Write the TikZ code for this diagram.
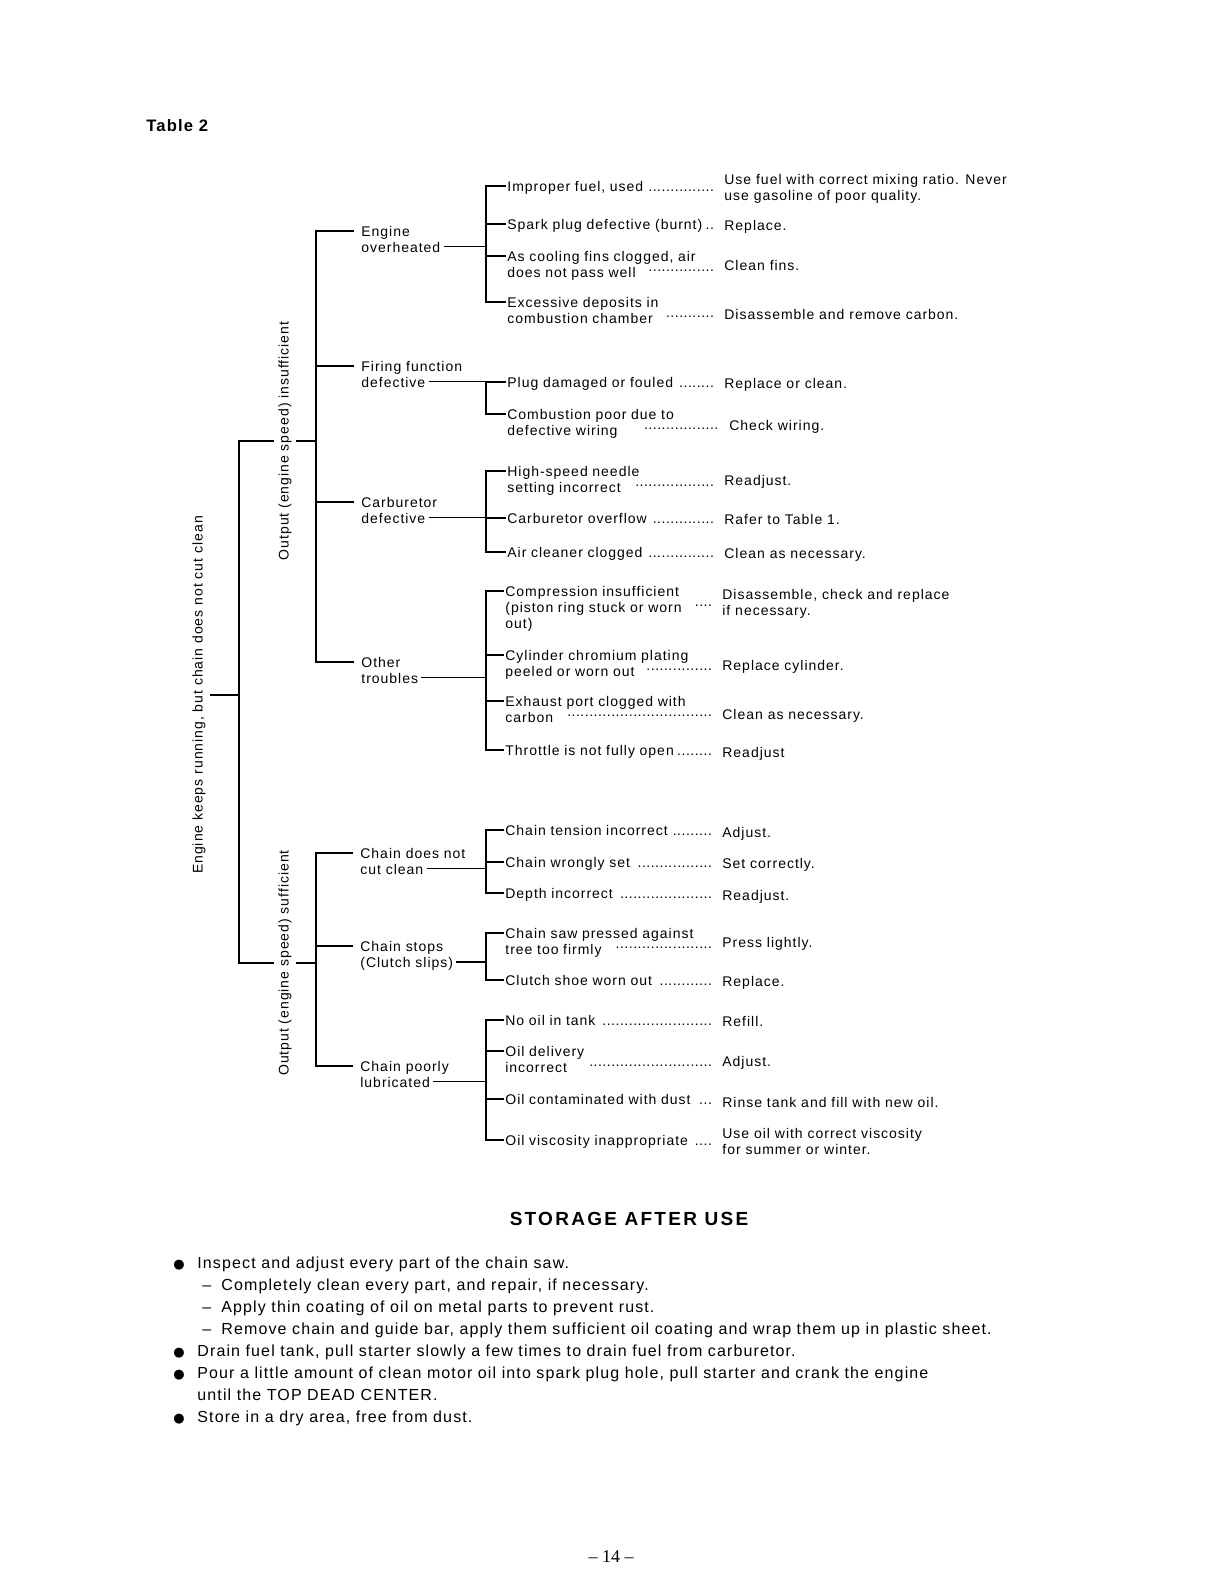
\documentclass[tikz,border=0pt]{standalone}
\usepackage{fontspec}
\setmainfont{Liberation Sans}[LetterSpace=7]
\newfontfamily\pagefont{Liberation Serif}
\newfontfamily\bulfont{DejaVu Sans}
\usetikzlibrary{positioning,calc}
% dot leaders: on the line, and raised half a line
\newcommand\lfill{\leaders\hbox to 2.2pt{\hss.\hss}\hskip 0pt plus 1filll\kern0pt}
\newcommand\ufill{\leaders\hbox to 2.2pt{\hss\smash{\raise3pt\hbox{.}}\hss}\hskip 0pt plus 1filll\kern0pt}
\newcommand\lead[2][104.5pt]{\makebox[#1][l]{#2\lfill}}
\newcommand\ulead[2][104.5pt]{\makebox[#1][l]{#2\hspace{5pt}\ufill}}
\newcommand\blt{\makebox[12pt][l]{\bulfont\fontsize{6.5}{8}\selectfont ●}}
\newcommand\dsh{\hspace*{14.5pt}\makebox[9.5pt][l]{–}}
\tikzset{
  tree/.style={line width=1pt},
  tie/.style={line width=.75pt},
  grp/.style={anchor=base west,inner sep=0pt,font=\fontsize{7}{8}\selectfont},
  cause/.style={anchor=base west,inner sep=0pt,text width=107pt,align=left,font=\fontsize{7}{8}\selectfont},
  fix/.style={anchor=base west,inner sep=0pt,align=left,font=\fontsize{7}{8}\selectfont},
  side/.style={rotate=90,inner sep=2pt,font=\fontsize{7}{8}\selectfont},
}
\begin{document}
\begin{tikzpicture}[x=0.5pt,y=-0.5pt]
  \path[use as bounding box,fill=white] (0,0) rectangle (1224,1584);
  \node[anchor=base west,inner sep=0pt,font=\bfseries\fontsize{8.3}{10}\selectfont] (ttl) at (146,132) {Table 2};
  \coordinate (kx) at (239,0);
  \coordinate (lx) at (316,0);
  \coordinate (bx) at (486,0);

  % causes, upper half
  \node[cause] (c1) at (507,191.5) {\lead{Improper fuel, used\ }};
  \node[cause] (c2) at (507,229.5) {\lead{Spark plug defective (burnt)}};
  \node[cause] (c3) at (507,261.5) {As cooling fins clogged, air\\\ulead{does not pass well}};
  \node[cause] (c4) at (507,307.5) {Excessive deposits in\\\ulead{combustion chamber}};
  \node[cause] (c5) at (507,387) {\lead{Plug damaged or fouled\ }};
  \node[cause] (c6) at (507,419) {Combustion poor due to\\\ulead[106.5pt]{defective wiring\hspace{6pt}}};
  \node[cause] (c7) at (507,476.5) {High-speed needle\\\ulead{setting incorrect}};
  \node[cause] (c8) at (507,523) {\lead{Carburetor overflow\ }};
  \node[cause] (c9) at (507,557) {\lead{Air cleaner clogged\ }};
  \node[cause] (c10) at (505,596.5) {Compression insufficient\\\ulead{(piston ring stuck or worn}\\out)};
  \node[cause] (c11) at (505,660.5) {Cylinder chromium plating\\\ulead{peeled or worn out}};
  \node[cause] (c12) at (505,706.5) {Exhaust port clogged with\\\ulead{carbon}};
  \node[cause] (c13) at (505,755.5) {\lead{Throttle is not fully open}};
  % causes, lower half
  \node[cause] (c14) at (505,835.5) {\lead{Chain tension incorrect\ }};
  \node[cause] (c15) at (505,867.5) {\lead{Chain wrongly set\ }};
  \node[cause] (c16) at (505,898.5) {\lead{Depth incorrect\ }};
  \node[cause] (c17) at (505,938.5) {Chain saw pressed against\\\ulead{tree too firmly}};
  \node[cause] (c18) at (505,985) {\lead{Clutch shoe worn out\ }};
  \node[cause] (c19) at (505,1025) {\lead{No oil in tank\ }};
  \node[cause] (c20) at (505,1056.5) {Oil delivery\\\ulead{incorrect\hspace{6pt}}};
  \node[cause] (c21) at (505,1104.5) {\lead{Oil contaminated with dust\ }};
  \node[cause] (c22) at (505,1145) {\lead{Oil viscosity inappropriate\ }};

  % remedies (base = last line)
  \node[fix] (r1) at (724,200) {Use fuel with correct mixing ratio. Never\\use gasoline of poor quality.};
  \node[fix] (r2) at (724,230.5) {Replace.};
  \node[fix] (r3) at (724,270.5) {Clean fins.};
  \node[fix] (r4) at (724,319) {Disassemble and remove carbon.};
  \node[fix] (r5) at (724,388) {Replace or clean.};
  \node[fix] (r6) at (729,430) {Check wiring.};
  \node[fix] (r7) at (724,485.5) {Readjust.};
  \node[fix] (r8) at (724,524) {Rafer to Table 1.};
  \node[fix] (r9) at (724,558) {Clean as necessary.};
  \node[fix] (r10) at (722,615) {Disassemble, check and replace\\if necessary.};
  \node[fix] (r11) at (722,670.5) {Replace cylinder.};
  \node[fix] (r12) at (722,719) {Clean as necessary.};
  \node[fix] (r13) at (722,757) {Readjust};
  \node[fix] (r14) at (722,837) {Adjust.};
  \node[fix] (r15) at (722,868.5) {Set correctly.};
  \node[fix] (r16) at (722,900) {Readjust.};
  \node[fix] (r17) at (722,947) {Press lightly.};
  \node[fix] (r18) at (722,986.5) {Replace.};
  \node[fix] (r19) at (722,1026) {Refill.};
  \node[fix] (r20) at (722,1066.5) {Adjust.};
  \node[fix] (r21) at (722,1107) {Rinse tank and fill with new oil.};
  \node[fix] (r22) at (722,1154) {Use oil with correct viscosity\\for summer or winter.};

  % trouble groups
  \node[grp] (g1a) at (361,236) {Engine};
  \node[grp] (g1b) at (361,252) {overheated};
  \node[grp] (g2a) at (361,371) {Firing function};
  \node[grp] (g2b) at (361,387) {defective};
  \node[grp] (g3a) at (361,507) {Carburetor};
  \node[grp] (g3b) at (361,523) {defective};
  \node[grp] (g4a) at (361,667) {Other};
  \node[grp] (g4b) at (361,683) {troubles};
  \node[grp] (g5a) at (360,858) {Chain does not};
  \node[grp] (g5b) at (360,874) {cut clean};
  \node[grp] (g6a) at (360,951.5) {Chain stops};
  \node[grp] (g6b) at (360,967.5) {(Clutch slips)};
  \node[grp] (g7a) at (360,1071) {Chain poorly};
  \node[grp] (g7b) at (360,1087) {lubricated};

  % brackets from each group to its causes
  \foreach \a/\b in {c1/c4,c5/c6,c7/c9,c10/c13,c14/c16,c17/c18,c19/c22}{
    \draw[tree,shorten <=.5pt,shorten >=.5pt] (\a.mid west) -- (\a.mid west -| bx) -- (\b.mid west -| bx) -- (\b.mid west);
  }
  \foreach \i in {2,3,8,11,12,15,20,21}{
    \draw[tree,shorten >=.5pt] (c\i.mid west -| bx) -- (c\i.mid west);
  }
  \foreach \g in {g1b,g2b,g3b,g4b,g5b,g6b,g7b}{
    \draw[tie,shorten <=1.5pt] (\g.mid east) -- (\g.mid east -| bx);
  }

  % output insufficient / sufficient
  \draw[tree,shorten <=3.5pt,shorten >=3.5pt] (g1a.mid west) -- (g1a.mid west -| lx) -- (g4a.mid west -| lx) -- (g4a.mid west);
  \draw[tree,shorten <=3.5pt,shorten >=3.5pt] (g5a.mid west) -- (g5a.mid west -| lx) -- (g7a.mid west -| lx) -- (g7a.mid west);
  \foreach \g in {g2a,g3a,g6a}{
    \draw[tree,shorten >=3.5pt] (\g.mid west -| lx) -- (\g.mid west);
  }
  \node[side] (ins) at (285,441) {Output (engine speed) insufficient};
  \node[side] (suf) at (285,963) {Output (engine speed) sufficient};
  \draw[tree] (ins.south) -- (ins.south -| lx);
  \draw[tree] (suf.south) -- (suf.south -| lx);
  \draw[tree] (ins.north) -- (ins.north -| kx) -- (suf.north -| kx) -- (suf.north);
  \node[side] (run) at (199,695) {Engine keeps running, but chain does not cut clean};
  \draw[tree] (run.south) -- (run.south -| kx);

  % storage notes (base = last line)
  \node[anchor=base,inner sep=0pt,font=\bfseries\fontsize{9.5}{11}\selectfont\addfontfeatures{LetterSpace=12}] (head) at (629,1225) {STORAGE AFTER USE};
  \node[anchor=base west,inner sep=0pt,align=left,font=\fontsize{8}{11}\selectfont] (care) at (173,1422) {%
    \blt Inspect and adjust every part of the chain saw.\\
    \dsh Completely clean every part, and repair, if necessary.\\
    \dsh Apply thin coating of oil on metal parts to prevent rust.\\
    \dsh Remove chain and guide bar, apply them sufficient oil coating and wrap them up in plastic sheet.\\
    \blt Drain fuel tank, pull starter slowly a few times to drain fuel from carburetor.\\
    \blt Pour a little amount of clean motor oil into spark plug hole, pull starter and crank the engine\\
    \hspace*{12pt}until the TOP DEAD CENTER.\\
    \blt Store in a dry area, free from dust.};
  \node[anchor=base,inner sep=0pt,font=\pagefont\fontsize{9}{10}\selectfont] (pg) at (611,1562) {– 14 –};
\end{tikzpicture}
\end{document}
